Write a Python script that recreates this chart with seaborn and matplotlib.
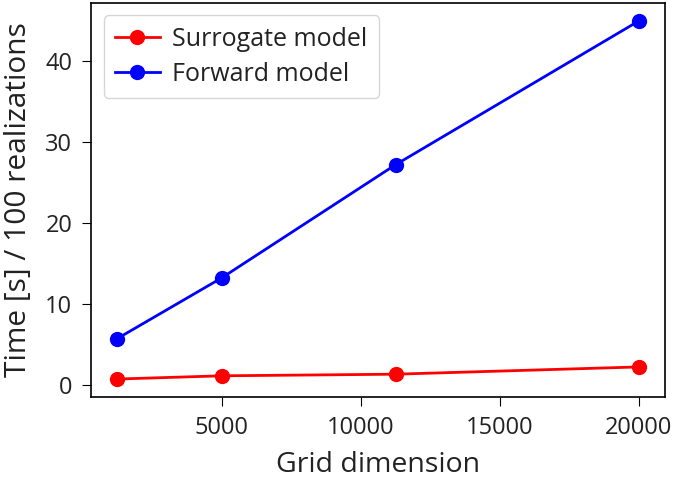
import matplotlib
matplotlib.use("Agg")
import matplotlib.pyplot as plt
import seaborn as sns
import pandas as pd

# values
grid_dim = [1250, 5000, 11250, 20000]
surrogate_time = [0.7, 1.1, 1.3, 2.2]
forward_time = [5.7, 13.2, 27.2, 45.0]
series_names = ["Surrogate model", "Forward model"]
series_colors = ["red", "blue"]

df = pd.concat([
    pd.DataFrame({"grid": grid_dim, "time": surrogate_time, "model": series_names[0]}),
    pd.DataFrame({"grid": grid_dim, "time": forward_time, "model": series_names[1]}),
])

plt.rcParams['font.family'] = ['Open Sans', 'DejaVu Sans']
text_color = '#222222'

fig = plt.figure(figsize=(6.85, 4.8), dpi=100)
ax = fig.add_axes([0.133, 0.173, 0.838, 0.821])

sns.lineplot(data=df, x="grid", y="time", hue="model",
             hue_order=series_names, palette=series_colors,
             marker="o", markersize=11, markeredgewidth=0,
             linewidth=2, ax=ax)

ax.set_xlabel("Grid dimension", fontsize=20.5, color=text_color, labelpad=8)
ax.set_ylabel("Time [s] / 100 realizations", fontsize=21.5, color=text_color, labelpad=9)
ax.tick_params(axis='both', labelsize=17, colors='black', length=6.5, pad=7)
ax.set_xticks([5000, 10000, 15000, 20000])
ax.set_yticks([0, 10, 20, 30, 40])
for lbl in ax.get_xticklabels() + ax.get_yticklabels():
    lbl.set_color(text_color)

for side in ['top', 'right', 'bottom', 'left']:
    ax.spines[side].set_color('black')
    ax.spines[side].set_linewidth(1.2)

leg = ax.legend(loc='upper left', fontsize=18, frameon=True, borderpad=0.45,
                handlelength=1.8, labelspacing=0.4, handletextpad=0.5)
leg.get_frame().set_edgecolor('#cccccc')
for t in leg.get_texts():
    t.set_color(text_color)

fig.savefig("out.png", dpi=100)
